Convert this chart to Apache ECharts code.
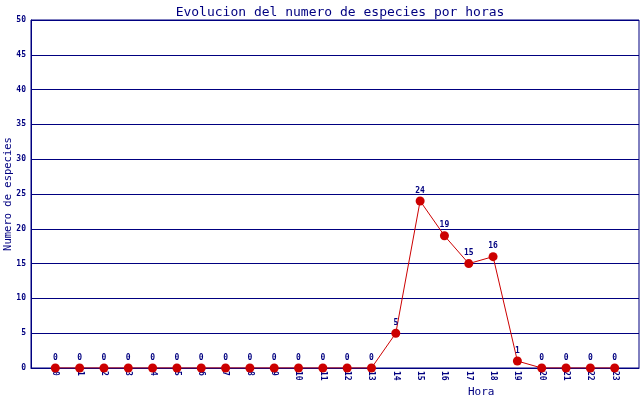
<!DOCTYPE html>
<html><head><meta charset="utf-8">
<script src="https://cdn.jsdelivr.net/npm/echarts@6/dist/echarts.min.js"></script>
<style>html,body{margin:0;padding:0;background:#fff}#c{width:640px;height:400px}</style>
</head><body><div id="c"></div>
<script>
const hours = [0,1,2,3,4,5,6,7,8,9,10,11,12,13,14,15,16,17,18,19,20,21,22,23];
const especies = [0,0,0,0,0,0,0,0,0,0,0,0,0,0,5,24,19,15,16,1,0,0,0,0];
const yTicks = [0,5,10,15,20,25,30,35,40,45,50];
const titleText = 'Evolucion del numero de especies por horas';
const xName = 'Hora';
const yName = 'Numero de especies';

const navy = '#000080';
const mono = 'DejaVu Sans Mono';
const chart = echarts.init(document.getElementById('c'), null, {renderer:'canvas'});
chart.setOption({
  animation:false,
  backgroundColor:'#fff',
  title:{text:titleText,left:335,top:1,textAlign:'center',
    textStyle:{color:navy,fontFamily:mono,fontSize:13,fontWeight:'normal'}},
  grid:{left:31,right:1,top:20,bottom:32,containLabel:false,outerBoundsMode:'none',
    show:true,borderColor:navy,borderWidth:1,backgroundColor:'transparent'},
  graphic:[{type:'text',left:468,top:387,style:{text:xName,fill:navy,font:'11px "DejaVu Sans Mono"'}}],
  xAxis:{type:'value',min:-1,max:24,interval:1,
    axisLine:{show:true,onZero:false,lineStyle:{color:navy,width:1}},
    axisTick:{show:false},
    splitLine:{show:false},
    axisLabel:{rotate:-90,color:navy,fontFamily:mono,fontSize:8,fontWeight:'bold',margin:3,
      formatter:v=>hours.indexOf(v)>=0?String(v):''}},
  yAxis:{type:'value',min:yTicks[0],max:yTicks[yTicks.length-1],interval:5,
    name:yName,nameLocation:'middle',nameGap:17,nameMoveOverlap:false,
    nameTextStyle:{color:navy,fontFamily:mono,fontSize:10.5},
    axisLine:{show:true,onZero:false,lineStyle:{color:navy,width:1}},
    axisTick:{show:false},
    splitLine:{show:true,lineStyle:{color:navy,width:1}},
    axisLabel:{color:navy,fontFamily:mono,fontSize:8,fontWeight:'bold',margin:5}},
  series:[{type:'line',data:hours.map((h,i)=>[h,especies[i]]),
    symbol:'circle',symbolSize:9,
    itemStyle:{color:'#cc0000'},
    lineStyle:{color:'#cc0000',width:1},
    label:{show:true,position:'top',distance:2,color:navy,fontFamily:mono,fontSize:8,fontWeight:'bold'}}]
});
</script></body></html>
